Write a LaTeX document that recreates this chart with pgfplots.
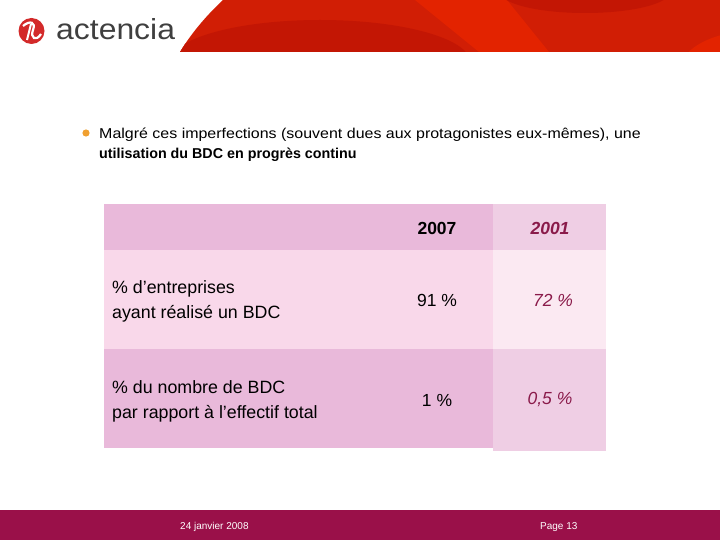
\documentclass[border=0pt]{standalone}
\usepackage{fontspec}
\setmainfont{Liberation Sans}
\usepackage{pgfplots}
\pgfplotsset{compat=1.18}

\definecolor{banner}{HTML}{D11E05}
\definecolor{bannerdk}{HTML}{C31604}
\definecolor{bannerlt}{HTML}{E32300}
\definecolor{footer}{HTML}{9A1049}
\definecolor{hdrA}{HTML}{E9B9DA}
\definecolor{hdrB}{HTML}{EFCEE4}
\definecolor{rowA}{HTML}{F9D8EA}
\definecolor{rowB}{HTML}{FBE9F2}
\definecolor{magtxt}{HTML}{8A1A4A}
\definecolor{bullet}{HTML}{F0A030}
\definecolor{logotxt}{HTML}{3F3F3F}
\definecolor{logored}{HTML}{D32A2A}

\begin{document}
\begin{tikzpicture}
  \begin{axis}[
      scale only axis,
      width=720pt, height=540pt,
      xmin=0, xmax=720, ymin=0, ymax=540,
      y dir=reverse,
      hide axis,
      clip=false,
    ]
    % header banner
    \fill[banner] (axis cs:180,52) .. controls (axis cs:192,32) and (axis cs:208,14) .. (axis cs:223,0)
      -- (axis cs:720,0) -- (axis cs:720,52) -- cycle;
    \begin{scope}
      \clip (axis cs:180,52) .. controls (axis cs:192,32) and (axis cs:208,14) .. (axis cs:223,0)
        -- (axis cs:720,0) -- (axis cs:720,52) -- cycle;
      \fill[bannerlt] (axis cs:415,0) -- (axis cs:507,0) -- (axis cs:549,52) -- (axis cs:479,52) -- cycle;
      \fill[bannerdk] (axis cs:320,62) ellipse [x radius=150pt, y radius=42pt];
      \fill[bannerdk] (axis cs:585,-8) ellipse [x radius=85pt, y radius=21pt];
      \fill[bannerlt] (axis cs:760,70) ellipse [x radius=80pt, y radius=40pt];
    \end{scope}
    % logo
    \fill[logored] (axis cs:31.5,31) circle [radius=13pt];
    \draw[white, line width=2.2pt] (axis cs:23,26) .. controls (axis cs:30,20) and (axis cs:36,22) .. (axis cs:33,30)
      .. controls (axis cs:30,38) and (axis cs:36,42) .. (axis cs:41,34);
    \draw[white, line width=2pt] (axis cs:27,40) -- (axis cs:31,24);
    \node[anchor=base west, inner sep=0pt, text=logotxt, font=\fontsize{29}{30}\selectfont, xscale=1.1]
      at (axis cs:56,40) {actencia};

    % bullet text
    \fill[bullet] (axis cs:86,133) circle [radius=3.6pt];
    \node[anchor=base west, inner sep=0pt, font=\fontsize{14.3}{16}\selectfont, xscale=1.117]
      at (axis cs:99,138.5) {Malgré ces imperfections (souvent dues aux protagonistes eux-mêmes), une};
    \node[anchor=base west, inner sep=0pt, font=\fontsize{14.3}{16}\selectfont\bfseries]
      at (axis cs:99,158.5) {utilisation du BDC en progrès continu};

    % table cells
    \fill[hdrA] (axis cs:104,204) rectangle (axis cs:493,250);
    \fill[hdrB] (axis cs:493,204) rectangle (axis cs:606,250);
    \fill[rowA] (axis cs:104,250) rectangle (axis cs:493,349);
    \fill[rowB] (axis cs:493,250) rectangle (axis cs:606,349);
    \fill[hdrA] (axis cs:104,349) rectangle (axis cs:493,448);
    \fill[hdrB] (axis cs:493,349) rectangle (axis cs:606,451);

    % row labels
    \node[anchor=base west, inner sep=0pt, font=\fontsize{17.8}{20}\selectfont] at (axis cs:112,293) {\% d’entreprises};
    \node[anchor=base west, inner sep=0pt, font=\fontsize{17.8}{20}\selectfont] at (axis cs:112,318) {ayant réalisé un BDC};
    \node[anchor=base west, inner sep=0pt, font=\fontsize{17.8}{20}\selectfont] at (axis cs:112,393) {\% du nombre de BDC};
    \node[anchor=base west, inner sep=0pt, font=\fontsize{17.8}{20}\selectfont] at (axis cs:112,418) {par rapport à l’effectif total};

    % column heads
    \node[anchor=base, inner sep=0pt, font=\fontsize{17.5}{20}\selectfont\bfseries] at (axis cs:437,234) {2007};
    \node[anchor=base, inner sep=0pt, text=magtxt, font=\fontsize{17.5}{20}\selectfont\bfseries\itshape] at (axis cs:550,234) {2001};

    % values 2007
    \addplot[only marks, mark=none, point meta=explicit symbolic,
      nodes near coords,
      nodes near coords style={anchor=center, inner sep=0pt, font=\fontsize{17.5}{20}\selectfont, text=black}]
      coordinates {(437,300) [91~\%] (437,400) [1~\%]};
    % values 2001
    \addplot[only marks, mark=none, point meta=explicit symbolic,
      nodes near coords,
      nodes near coords style={anchor=center, inner sep=0pt, font=\fontsize{17.5}{20}\selectfont\itshape, text=magtxt}]
      coordinates {(553,300) [72~\%] (550,400) [0,5~\%]};

    % footer
    \fill[footer] (axis cs:0,510) rectangle (axis cs:720,540);
    \node[anchor=base west, inner sep=0pt, text=white, font=\fontsize{10}{12}\selectfont] at (axis cs:180,529) {24 janvier 2008};
    \node[anchor=base west, inner sep=0pt, text=white, font=\fontsize{10}{12}\selectfont] at (axis cs:540,529) {Page 13};
  \end{axis}
\end{tikzpicture}
\end{document}
